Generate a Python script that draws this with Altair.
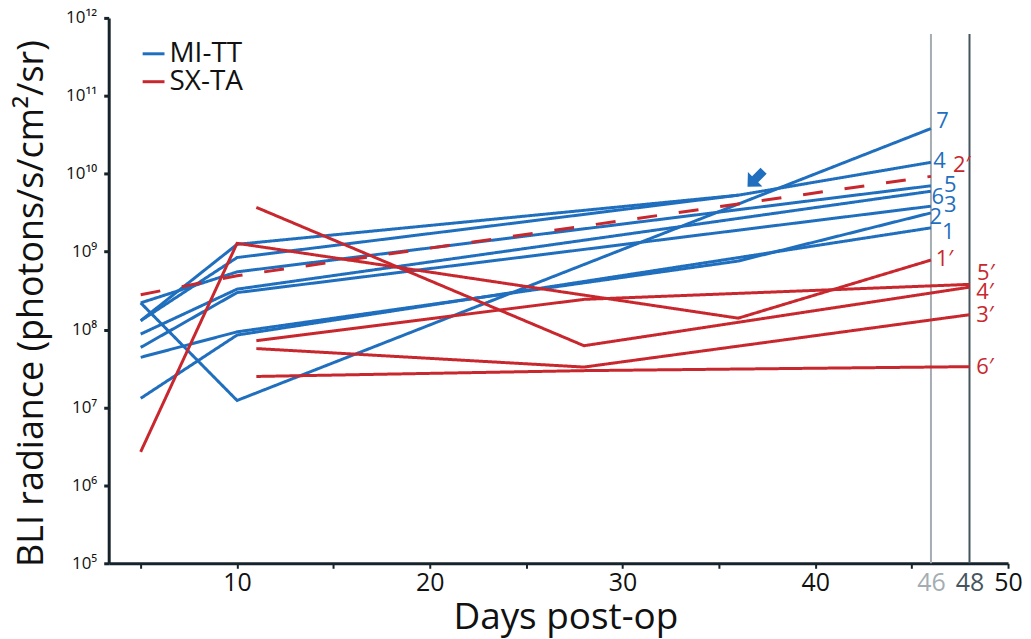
import altair as alt
import pandas as pd

# ---------------- data ----------------
# MI-TT animals (blue). "x" = animal without end label (series stops at day 36, arrow)
mi_ids = ["7", "4", "x", "5", "6", "3", "2", "1"]
mi_days = [
    [5, 10, 46],
    [5, 10, 36, 46],
    [5, 10, 36],
    [5, 10, 46],
    [5, 10, 46],
    [5, 10, 46],
    [5, 10, 36, 46],
    [5, 10, 46],
]
mi_vals = [
    [2.2e8, 1.23e7, 3.8e10],
    [1.3e8, 8.4e8, 5.3e9, 1.4e10],
    [1.3e8, 1.24e9, 5.3e9],
    [2.2e8, 5.5e8, 7.0e9],
    [8.75e7, 3.3e8, 5.96e9],
    [5.9e7, 2.98e8, 3.83e9],
    [4.4e7, 9.35e7, 7.57e8, 3.14e9],
    [1.31e7, 8.5e7, 2.02e9],
]

# SX-TA animals (red); 2' is drawn dashed
sx_ids = ["1′", "2′", "3′", "4′", "5′", "6′"]
sx_days = [
    [5, 10, 36, 46],
    [5, 10, 46],
    [11, 28, 48],
    [11, 28, 48],
    [11, 28, 48],
    [11, 28, 48],
]
sx_vals = [
    [2.7e6, 1.28e9, 1.4e8, 7.8e8],
    [2.8e8, 4.9e8, 9.25e9],
    [5.7e7, 3.3e7, 1.55e8],
    [3.7e9, 6.2e7, 3.5e8],
    [7.2e7, 2.44e8, 3.8e8],
    [2.5e7, 2.97e7, 3.34e7],
]
sx_dashed = ["2′"]

# end labels (text, group, day, radiance)
label_text = ["7", "4", "5", "6", "3", "2", "1", "2′", "1′", "5′", "4′", "3′", "6′"]
label_group = ["MI-TT"] * 7 + ["SX-TA"] * 6
label_day = [46.6, 46.45, 47.0, 46.35, 47.0, 46.25, 46.9, 47.6, 46.7, 48.85, 48.8, 48.8, 48.8]
label_val = [4.8e10, 1.44e10, 7.1e9, 5.0e9, 3.95e9, 2.77e9, 1.78e9, 1.28e10, 8.0e8, 5.3e8, 3.04e8, 1.55e8, 3.34e7]

# imaging endpoints (vertical reference lines)
ref_days = [46, 48]
ref_colors = ["#a4adb2", "#46555d"]
ref_top = 6.2e11

# arrow marking the animal that stopped at day 36
arrow_day = [36.9]
arrow_val = [8.6e9]

groups = ["MI-TT", "SX-TA"]
colors = ["#1f6fbe", "#c8272d"]

# ---------------- build tables ----------------
rows = []
for aid, ds, vs in zip(mi_ids, mi_days, mi_vals):
    for d, v in zip(ds, vs):
        rows.append({"id": "MI-" + aid, "group": "MI-TT", "day": d, "val": v, "dash": "solid"})
for aid, ds, vs in zip(sx_ids, sx_days, sx_vals):
    for d, v in zip(ds, vs):
        rows.append({"id": "SX-" + aid, "group": "SX-TA", "day": d, "val": v,
                     "dash": "dashed" if aid in sx_dashed else "solid"})
lines_df = pd.DataFrame(rows)

labels_df = pd.DataFrame({"text": label_text, "group": label_group,
                          "day": label_day, "val": label_val})
ref_df = pd.DataFrame({"day": ref_days, "col": ref_colors,
                       "top": [ref_top] * len(ref_days), "bottom": [1e5] * len(ref_days)})
arrow_df = pd.DataFrame({"day": arrow_day, "val": arrow_val})

FONT = "Open Sans"
AXC = "#16232a"

xscale = alt.Scale(domain=[3.34, 50], nice=False, zero=False)
yscale = alt.Scale(type="log", domain=[1e5, 1e12], nice=False)
cscale = alt.Scale(domain=groups, range=colors)

x_axis = alt.Axis(
    values=[5, 10, 15, 20, 25, 30, 35, 40, 45, 46, 48, 50],
    labelExpr="indexof([10,20,30,40,46,48,50], datum.value) >= 0 ? datum.label : ''",
    labelColor={"condition": [{"test": "datum.value == 46", "value": "#a4adb2"},
                              {"test": "datum.value == 48", "value": "#46555d"}],
                "value": "#111111"},
    tickOpacity={"condition": {"test": "datum.value == 46 || datum.value == 48", "value": 0},
                 "value": 1},
    title="Days post-op", grid=False, domainWidth=3, domainColor=AXC,
    tickColor=AXC, tickWidth=2, tickSize=5, labelFontSize=25, labelFont=FONT,
    labelPadding=2, titleFont=FONT, titleFontSize=37, titleFontWeight="normal",
    titlePadding=4, titleX=458, titleColor="#111111", labelFlush=False, labelOverlap=False,
)
y_axis = alt.Axis(
    values=[1e5, 1e6, 1e7, 1e8, 1e9, 1e10, 1e11, 1e12],
    labelExpr="['10⁵','10⁶','10⁷','10⁸','10⁹','10¹⁰','10¹¹','10¹²'][round(log(datum.value)/LN10) - 5]",
    title="BLI radiance (photons/s/cm²/sr)", grid=False, domainWidth=3, domainColor=AXC,
    tickColor=AXC, tickWidth=3, tickSize=5, labelFontSize=17, labelFont=FONT,
    labelPadding=7, titleFont=FONT, titleFontSize=36, titleFontWeight="normal",
    titlePadding=15, titleY=286, titleColor="#111111", labelColor="#111111", labelFlush=False,
)

lines = alt.Chart(lines_df).mark_line(strokeWidth=3, strokeCap="butt").encode(
    x=alt.X("day:Q", scale=xscale, axis=x_axis),
    y=alt.Y("val:Q", scale=yscale, axis=y_axis),
    color=alt.Color("group:N", scale=cscale, legend=alt.Legend(
        title=None, orient="none", legendX=31, legendY=22, symbolType="stroke",
        symbolStrokeWidth=3, symbolSize=480, labelFont=FONT, labelFontSize=28,
        labelColor="#111111", rowPadding=-4, labelOffset=2, symbolOffset=0, padding=0)),
    strokeDash=alt.StrokeDash("dash:N", scale=alt.Scale(domain=["solid", "dashed"],
                                                        range=[[1, 0], [20, 22]]), legend=None),
    detail="id:N",
    order="day:Q",
)

refs = alt.Chart(ref_df).mark_rule(strokeWidth=2).encode(
    x="day:Q", y="top:Q", y2="bottom:Q",
    color=alt.Color("col:N", scale=None),
)

texts = alt.Chart(labels_df).mark_text(font=FONT, fontSize=22, align="center",
                                       baseline="middle").encode(
    x="day:Q", y="val:Q", text="text:N",
    color=alt.Color("group:N", scale=cscale, legend=None),
)

arrow = alt.Chart(arrow_df).mark_point(
    shape="M0,-1L0.9,-0.05L0.38,-0.05L0.38,1L-0.38,1L-0.38,-0.05L-0.9,-0.05Z",
    filled=True, size=520, angle=225, color="#1f6fbe", opacity=1,
).encode(x="day:Q", y="val:Q")

chart = alt.layer(refs, lines, texts, arrow).properties(
    width=902, height=547,
    padding={"left": 5, "top": 0, "right": 0, "bottom": 2},
).configure_view(stroke=None).resolve_scale(color="independent")

chart.save("out.html", embed_options={"renderer": "svg", "actions": False})
